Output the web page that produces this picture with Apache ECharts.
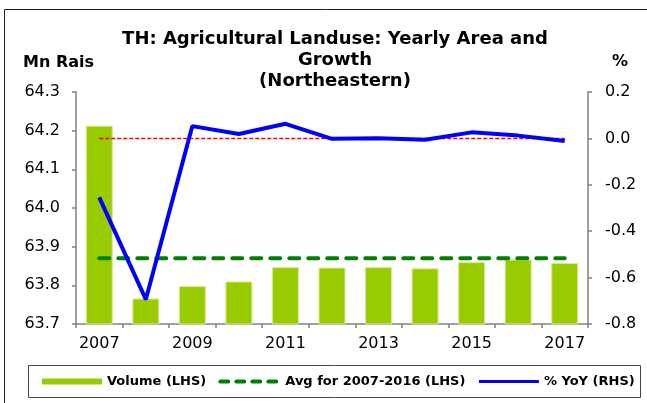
<!DOCTYPE html>
<html>
<head>
<meta charset="utf-8">
<script src="https://cdn.jsdelivr.net/npm/echarts@6/dist/echarts.min.js"></script>
<style>
  html, body { margin: 0; padding: 0; background: #fff; }
  #chart { width: 647px; height: 403px; }
</style>
</head>
<body>
<div id="chart"></div>
<script>
const years = ['2007', '2008', '2009', '2010', '2011', '2012', '2013', '2014', '2015', '2016', '2017']
const volume = [64.213, 63.766, 63.798, 63.810, 63.847, 63.846, 63.847, 63.844, 63.860, 63.867, 63.858]
const avgLine = [63.87, 63.87, 63.87, 63.87, 63.87, 63.87, 63.87, 63.87, 63.87, 63.87, 63.87]
const yoy = [-0.254, -0.694, 0.053, 0.019, 0.063, -0.002, 0.001, -0.006, 0.026, 0.012, -0.011]
const zeroLine = [0, 0, 0, 0, 0, 0, 0, 0, 0, 0, 0]

const font = 'DejaVu Sans'
const axisColor = '#808080'
// hide the dot that echarts puts in the middle of line legend icons
const noDot = { color: 'rgba(0,0,0,0)', borderWidth: 0, opacity: 0 }

const myChart = echarts.init(document.getElementById('chart'))
const option = {
  backgroundColor: '#fff',
  animation: false,
  title: [{
    text: 'TH: Agricultural Landuse: Yearly Area and\nGrowth\n(Northeastern)',
    left: 335,
    top: 29,
    textAlign: 'center',
    padding: 0,
    textStyle: { fontFamily: font, fontSize: 18, fontWeight: 'bold', color: '#000', lineHeight: 21 }
  }, {
    text: 'Mn Rais',
    left: 23,
    top: 55,
    padding: 0,
    textStyle: { fontFamily: font, fontSize: 16, fontWeight: 'bold', color: '#000', lineHeight: 16 }
  }, {
    text: '%',
    left: 612,
    top: 54,
    padding: 0,
    textStyle: { fontFamily: font, fontSize: 16, fontWeight: 'bold', color: '#000', lineHeight: 16 }
  }],
  graphic: [{
    type: 'rect',
    shape: { x: 4.5, y: 9.5, width: 700, height: 500 },
    style: { fill: 'none', stroke: '#222', lineWidth: 1 },
    silent: true
  }, {
    type: 'rect',
    shape: { x: 28.5, y: 365.5, width: 612, height: 32 },
    style: { fill: 'none', stroke: '#444', lineWidth: 1 },
    silent: true
  }],
  legend: {
    data: [
      { name: 'Volume (LHS)', icon: 'rect', itemStyle: { borderWidth: 0 } },
      { name: 'Avg for 2007-2016 (LHS)', itemStyle: noDot, lineStyle: { width: 4, type: [8, 8], cap: 'round' } },
      { name: '% YoY (RHS)', itemStyle: noDot, lineStyle: { width: 3 } }
    ],
    left: 42,
    top: 375,
    padding: 0,
    itemWidth: 60,
    itemHeight: 6,
    itemGap: 12,
    textStyle: { fontFamily: font, fontSize: 13, fontWeight: 'bold', color: '#000' }
  },
  grid: {
    left: 76,
    right: 59,
    top: 92,
    bottom: 79
  },
  xAxis: {
    type: 'category',
    data: years,
    axisLine: { onZero: false, lineStyle: { color: axisColor, width: 1.5 } },
    axisTick: { show: true, interval: 0, length: 4, lineStyle: { color: axisColor, width: 1.5 } },
    axisLabel: { interval: 1, margin: 12, fontFamily: font, fontSize: 16, color: '#000' }
  },
  yAxis: [{
    type: 'value',
    min: 63.7,
    max: 64.3,
    interval: 0.1,
    axisLine: { show: true, lineStyle: { color: axisColor, width: 1.5 } },
    axisTick: { show: true, length: 4, lineStyle: { color: axisColor, width: 1.5 } },
    splitLine: { show: false },
    axisLabel: {
      margin: 16,
      fontFamily: font,
      fontSize: 16,
      color: '#000',
      formatter: v => v.toFixed(1)
    }
  }, {
    type: 'value',
    min: -0.8,
    max: 0.2,
    interval: 0.2,
    position: 'right',
    axisLine: { show: true, lineStyle: { color: axisColor, width: 1.5 } },
    axisTick: { show: true, length: 4, lineStyle: { color: axisColor, width: 1.5 } },
    splitLine: { show: false },
    axisLabel: {
      margin: 17,
      fontFamily: font,
      fontSize: 16,
      color: '#000',
      formatter: v => v.toFixed(1)
    }
  }],
  series: [{
    name: 'Volume (LHS)',
    type: 'bar',
    data: volume,
    barCategoryGap: '42%',
    itemStyle: { color: '#99cc00', borderColor: '#d6eb99', borderWidth: 1 }
  }, {
    name: 'Avg for 2007-2016 (LHS)',
    type: 'line',
    data: avgLine,
    symbol: 'none',
    z: 3,
    lineStyle: { color: '#008000', width: 4, type: [10, 9], cap: 'round' }
  }, {
    name: 'zero',
    type: 'line',
    yAxisIndex: 1,
    data: zeroLine,
    symbol: 'none',
    z: 3,
    lineStyle: { color: '#ff0000', width: 1.5, type: [4, 2] }
  }, {
    name: '% YoY (RHS)',
    type: 'line',
    yAxisIndex: 1,
    data: yoy,
    symbol: 'none',
    z: 4,
    lineStyle: { color: '#0000ff', width: 4 }
  }]
}
myChart.setOption(option)
</script>
</body>
</html>
